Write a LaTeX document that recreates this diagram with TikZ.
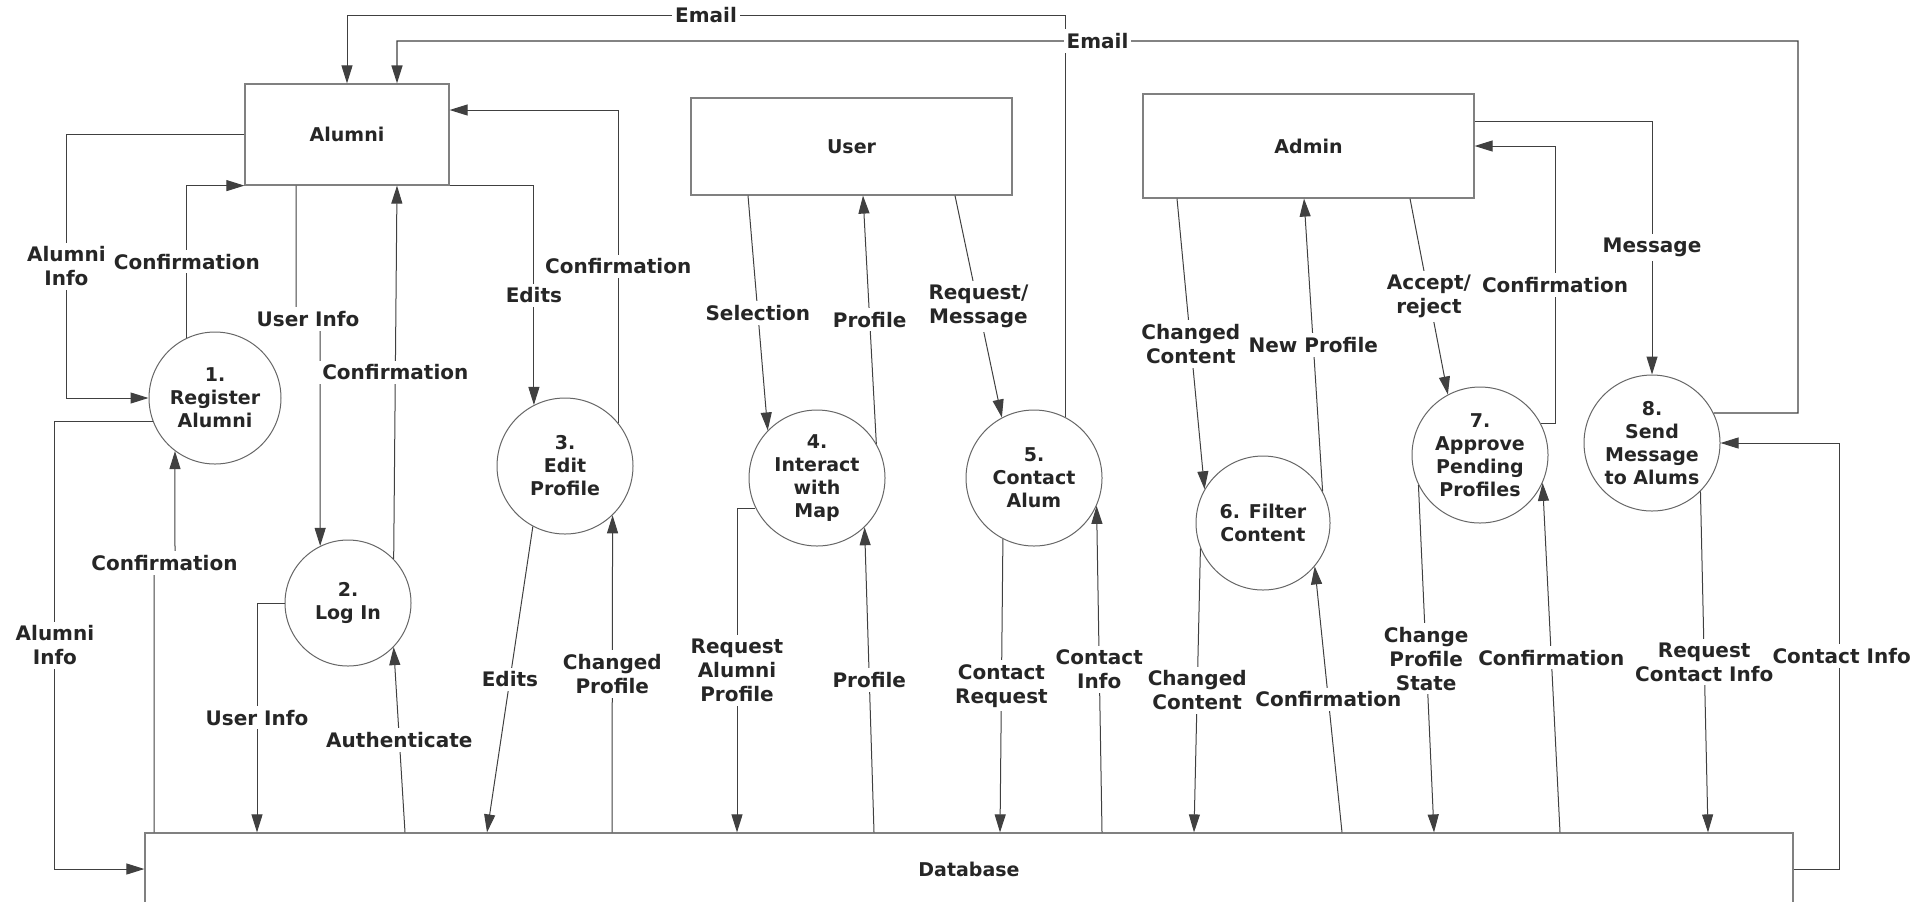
\documentclass[tikz,border=0pt]{standalone}
\usepackage{fontspec}
\setmainfont{DejaVu Sans}
\usetikzlibrary{arrows.meta}

\tikzset{
  entity/.style={draw=black!50, line width=0.6pt, rectangle, text=black!85,
    font=\fontsize{9.5}{11.5}\selectfont\bfseries},
  proc/.style={draw=black!60, line width=0.5pt, circle, inner sep=0pt, minimum size=68pt,
    align=center, text=black!85, font=\fontsize{9.5}{11.5}\selectfont\bfseries},
  flow/.style={draw=black!75, line width=0.5pt, -{Triangle[length=9pt, width=5.5pt]}},
  lbl/.style={fill=white, inner xsep=1.5pt, inner ysep=2pt, align=center, text=black!85,
    font=\fontsize{10}{12}\selectfont\bfseries},
}

\begin{document}
\begin{tikzpicture}[x=0.5pt, y=-0.5pt]
\useasboundingbox (0, 0) rectangle (1914, 901);
% entities
\node[entity, minimum width=102pt, minimum height=50.5pt] (alumni) at (347, 134.5) {Alumni};
\node[entity, minimum width=160.5pt, minimum height=48.5pt] (user) at (851.5, 146.5) {User};
\node[entity, minimum width=165.5pt, minimum height=52pt] (admin) at (1308.5, 146) {Admin};
\node[entity, minimum width=824pt, minimum height=36pt] (db) at (969, 869) {Database};
% processes
\node[proc, minimum size=66pt] (c1) at (215, 398) {1.\\Register\\Alumni};
\node[proc, minimum size=63pt] (c2) at (348, 603) {2.\\Log In};
\node[proc] (c3) at (565, 466) {3.\\Edit\\Profile};
\node[proc] (c4) at (817, 478) {4.\\Interact\\with\\Map};
\node[proc] (c5) at (1034, 478) {5.\\Contact\\Alum};
\node[proc, minimum size=67pt] (c6) at (1263, 523) {6. Filter\\Content};
\node[proc] (c7) at (1480, 455) {7.\\Approve\\Pending\\Profiles};
\node[proc] (c8) at (1652, 443) {8.\\Send\\Message\\to Alums};
% email
\draw[flow] (c5.63) |- node[lbl, pos=.75] {Email} (alumni.north |- 0, 15) -- (alumni.north);
\draw[flow, line width=0.7pt] (c8.26) -- (1798, 413) |- node[lbl, pos=.75] {Email} (397, 41) -- (alumni.north -| 397, 0);
% alumni side
\draw[flow] (alumni.west) -- ++(-178, 0) |- node[lbl, pos=.25] {Alumni\\Info} (c1.west);
\draw[flow] (c1.115) |- node[lbl, pos=.25] {Confirmation} (alumni.south west);
\draw[flow] (alumni.south -| 296, 0) -- (296, 319) -- node[lbl] {User Info} (320, 319) -- (c2.116);
\draw[flow] (c2.44) -- node[lbl] {Confirmation} (alumni.south -| 397, 0);
\draw[flow] (alumni.south east) -| node[lbl, pos=.75] {Edits} (c3.117);
\draw[flow] (c3.39) |- node[lbl, pos=.25] {Confirmation} (alumni.east |- 0, 110);
% user side
\draw[flow] (user.south -| 748, 0) -- node[lbl] {Selection} (c4.136);
\draw[flow] (c4.30) -- node[lbl] {Profile} (user.south -| 863, 0);
\draw[flow] (user.south -| 955, 0) -- node[lbl] {Request/\\Message} (c5.118);
% admin side
\draw[flow] (admin.south -| 1177, 0) -- node[lbl] {Changed\\Content} (c6.150);
\draw[flow] (c6.28) -- node[lbl] {New Profile} (admin.south -| 1304, 0);
\draw[flow] (admin.south -| 1410, 0) -- node[lbl] {Accept/\\reject} (c7.118);
\draw[flow] (c7.27) -- ++(14, 0) |- node[lbl, pos=.25] {Confirmation} (admin.east);
\draw[flow] (admin.east |- 0, 121) -| node[lbl, pos=.75] {Message} (c8.north);
% database
\draw[flow] (c1.201) -- ++(-98, 0) |- node[lbl, pos=.25] {Alumni\\Info} (db.west);
\draw[flow] (db.north -| 154, 0) -- (154, 563) -- node[lbl] {Confirmation} (175, 563) -- (c1.233);
\draw[flow] (c2.west) -| node[lbl, pos=.75] {User Info} (db.north -| 257, 0);
\draw[flow] (db.north -| 405, 0) -- node[lbl] {Authenticate} (c2.-44);
\draw[flow] (c3.242) -- node[lbl] {Edits} (db.north -| 487, 0);
\draw[flow] (db.north -| 612, 0) -- node[lbl] {Changed\\Profile} (c3.-46);
\draw[flow] (c4.206) -| node[lbl, pos=.75] {Request\\Alumni\\Profile} (db.north -| 737, 0);
\draw[flow] (db.north -| 874, 0) -- node[lbl] {Profile} (c4.-46);
\draw[flow] (c5.243) -- node[lbl] {Contact\\Request} (db.north -| 1000, 0);
\draw[flow] (db.north -| 1102, 0) -- node[lbl] {Contact\\Info} (c5.-24);
\draw[flow] (c6.202) -- node[lbl] {Changed\\Content} (db.north -| 1194, 0);
\draw[flow] (db.north -| 1342, 0) -- node[lbl] {Confirmation} (c6.-40);
\draw[flow] (c7.206) -- node[lbl] {Change\\Profile\\State} (db.north -| 1434, 0);
\draw[flow] (db.north -| 1560, 0) -- node[lbl] {Confirmation} (c7.-24);
\draw[flow] (c8.-45) -- node[lbl] {Request\\Contact Info} (db.north -| 1708, 0);
\draw[flow] (db.east) -- ++(46, 0) |- node[lbl, pos=.25, inner xsep=0pt, xshift=1pt] {Contact Info} (c8.east);
\end{tikzpicture}
\end{document}
